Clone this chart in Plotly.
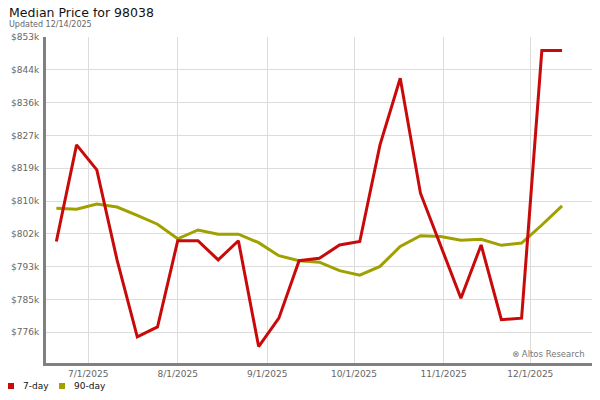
import plotly.graph_objects as go

# weekly sample dates
dates = [
    "2025-06-20", "2025-06-27", "2025-07-04", "2025-07-11", "2025-07-18", "2025-07-25",
    "2025-08-01", "2025-08-08", "2025-08-15", "2025-08-22", "2025-08-29", "2025-09-05",
    "2025-09-12", "2025-09-19", "2025-09-26", "2025-10-03", "2025-10-10", "2025-10-17",
    "2025-10-24", "2025-10-31", "2025-11-07", "2025-11-14", "2025-11-21", "2025-11-28",
    "2025-12-05", "2025-12-12",
]

price_7day = [
    800200, 825400, 818900, 795400, 775300, 777900, 800400, 800400, 795400, 800400,
    772800, 780200, 795200, 795800, 799300, 800200, 825400, 842800, 812800, 799100,
    785400, 799300, 779800, 780200, 850000, 850000,
]

price_90day = [
    808900, 808600, 810000, 809200, 807000, 804700, 800900, 803200, 802100, 802100,
    799900, 796500, 795200, 794800, 792600, 791400, 793700, 798900, 801700, 801500,
    800500, 800800, 799200, 799800, 804500, 809500,
]

# axis ticks
y_tick_vals = [776550 + i * 8550 for i in range(10)]
y_tick_labels = ["$776k", "$785k", "$793k", "$802k", "$810k",
                 "$819k", "$827k", "$836k", "$844k", "$853k"]
x_tick_vals = ["2025-07-01", "2025-08-01", "2025-09-01", "2025-10-01", "2025-11-01", "2025-12-01"]
x_tick_labels = ["7/1/2025", "8/1/2025", "9/1/2025", "10/1/2025", "11/1/2025", "12/1/2025"]

RED = "#c80a0a"
OLIVE = "#a0a000"
FONT = "DejaVu Sans"

# the page puts the figure 8px in from the top-left corner
OFF = 8
PLOT_L, PLOT_R, PLOT_T, PLOT_B = 46, 593, 37, 363
PW, PH = PLOT_R - PLOT_L, PLOT_B - PLOT_T


def px(x):
    return (x - PLOT_L) / PW


def py(y):
    return (PLOT_B - y) / PH


fig = go.Figure()
fig.add_trace(go.Scatter(x=dates, y=price_90day, mode="lines", name="90-day",
                         line=dict(color=OLIVE, width=3)))
fig.add_trace(go.Scatter(x=dates, y=price_7day, mode="lines", name="7-day",
                         line=dict(color=RED, width=3)))

fig.update_layout(
    width=600, height=400,
    margin=dict(l=PLOT_L - OFF, r=600 - PLOT_R + OFF, t=PLOT_T - OFF, b=400 - PLOT_B + OFF),
    paper_bgcolor="white", plot_bgcolor="white",
    showlegend=False,
    font=dict(family=FONT, size=9, color="#666666"),
)

fig.update_xaxes(
    type="date", automargin=False,
    range=["2025-06-16 10:00", "2025-12-22 17:00"],
    tickvals=x_tick_vals, ticktext=x_tick_labels,
    showgrid=True, gridcolor="#dcdcdc", gridwidth=1,
    showline=True, linecolor="#808080", linewidth=3,
    zeroline=False, ticks="",
    tickfont=dict(family=FONT, size=9, color="#666666"),
)
fig.update_yaxes(
    automargin=False,
    range=[768500, 853550],
    tickvals=y_tick_vals, ticktext=y_tick_labels,
    showgrid=True, gridcolor="#dcdcdc", gridwidth=1,
    showline=True, linecolor="#808080", linewidth=3,
    zeroline=False, ticks="", ticklabelstandoff=2,
    tickfont=dict(family=FONT, size=9, color="#666666"),
)

# right border
fig.add_shape(type="line", xref="paper", yref="paper", x0=1, x1=1, y0=0, y1=1,
              line=dict(color="#dcdcdc", width=1))

# title and subtitle
fig.add_annotation(text="Median Price for 98038", xref="paper", yref="paper",
                   x=px(8), y=py(12), xanchor="left", yanchor="middle", showarrow=False,
                   borderpad=0, font=dict(family=FONT, size=12.5, color="#111111"))
fig.add_annotation(text="Updated 12/14/2025", xref="paper", yref="paper",
                   x=px(8), y=py(25), xanchor="left", yanchor="middle",
                   showarrow=False, borderpad=0, font=dict(family=FONT, size=8, color="#666666"))

# watermark
fig.add_annotation(text="⊗ Altos Research", xref="paper", yref="paper",
                   x=px(587), y=py(354), xanchor="right", yanchor="middle",
                   showarrow=False, font=dict(family=FONT, size=8.5, color="#777777"))

# legend (squares + labels)
for name, color, sq_left, txt_left in [("7-day", RED, 8, 22), ("90-day", OLIVE, 59, 73)]:
    fig.add_shape(type="rect", xref="paper", yref="paper", xsizemode="pixel", ysizemode="pixel",
                  xanchor=0, yanchor=0, x0=sq_left - PLOT_L, x1=sq_left - PLOT_L + 6,
                  y0=-26, y1=-20, fillcolor=color, line=dict(width=0))
    fig.add_annotation(text=name, xref="paper", yref="paper",
                       x=px(txt_left), y=py(386),
                       xanchor="left", yanchor="middle", showarrow=False, borderpad=0,
                       font=dict(family=FONT, size=9, color="#111111"))

fig.write_html("out.html")
